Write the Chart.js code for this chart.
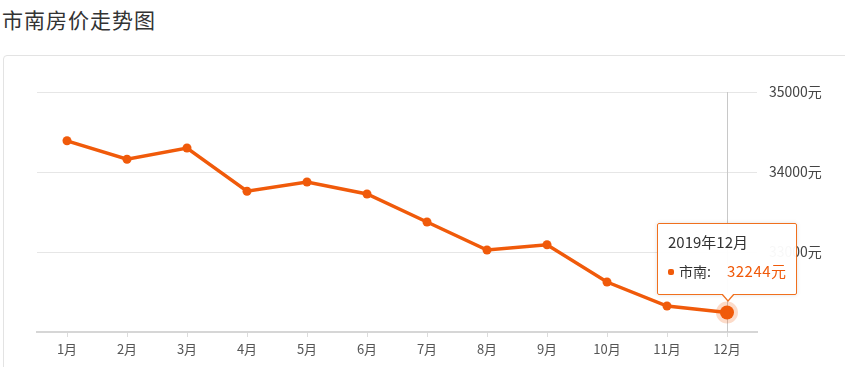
<!DOCTYPE html>
<html>
<head>
<meta charset="utf-8">
<script src="https://cdn.jsdelivr.net/npm/chart.js@4"></script>
<style>
  html, body { margin: 0; padding: 0; background: #fff; overflow: hidden; }
  body { width: 845px; height: 367px; position: relative; font-family: "Noto Sans CJK SC", "Noto Sans", sans-serif; }
  #title { position: absolute; left: 2px; top: 4px; font-size: 21px; color: #333; letter-spacing: 1px; }
  #card { position: absolute; left: 3px; top: 55px; width: 860px; height: 340px; border: 1px solid #e3e3e3; border-radius: 4px; }
  #wrap { position: absolute; left: 0; top: 0; width: 845px; height: 367px; }
  #tip { position: absolute; display: none; width: 138px; height: 70px; background: rgba(255,255,255,0.96);
         border: 1px solid #f0701e; border-radius: 2px; box-shadow: 0 0 4px rgba(0,0,0,0.12);
         font-size: 15px; color: #333; box-sizing: content-box; }
  #tip .t { position: absolute; left: 10px; top: 7px; }
  #tip .row { position: absolute; left: 10px; top: 36px; white-space: nowrap; font-size: 14px; }
  #tip .dot { display: inline-block; width: 6px; height: 6px; border-radius: 2px; background: #f05a0a; margin-right: 5px; vertical-align: 2px; }
  #tip .v { color: #f05a0a; margin-left: 16px; font-size: 15px; letter-spacing: 0.5px; }
  #tip .caret, #tip .caret2 { position: absolute; left: 63px; width: 0; height: 0; border-left: 7px solid transparent; border-right: 7px solid transparent; }
  #tip .caret { bottom: -8px; border-top: 8px solid #f0701e; }
  #tip .caret2 { bottom: -6px; left: 64px; border-left-width: 6px; border-right-width: 6px; border-top: 7px solid #fff; }
</style>
</head>
<body>
<div id="title">市南房价走势图</div>
<div id="card"></div>
<div id="wrap"><canvas id="priceChart" width="845" height="367"></canvas></div>
<div id="tip"><div class="t"></div><div class="row"><span class="dot"></span><span class="n"></span><span class="v"></span></div><div class="caret"></div><div class="caret2"></div></div>

<script>
// Data
const months = ['1月', '2月', '3月', '4月', '5月', '6月', '7月', '8月', '9月', '10月', '11月', '12月'];
const prices = [34390, 34160, 34300, 33760, 33875, 33725, 33375, 33025, 33090, 32625, 32325, 32244];
const seriesName = '市南';
const year = '2019年';
const yTicks = [32000, 33000, 34000, 35000];

const lineColor = '#f05a0a';
const tipEl = document.getElementById('tip');

// vertical line at the active point
const crosshair = {
    id: 'crosshair',
    beforeDatasetsDraw(chart) {
        const active = chart.tooltip.getActiveElements();
        if (!active.length) return;
        const x = chart.scales.x.getPixelForValue(active[0].index);
        const ctx = chart.ctx;
        ctx.save();
        ctx.strokeStyle = '#c8c8c8';
        ctx.lineWidth = 1;
        ctx.beginPath();
        ctx.moveTo(Math.round(x) + 0.5, chart.chartArea.top);
        ctx.lineTo(Math.round(x) + 0.5, chart.chartArea.bottom);
        ctx.stroke();
        ctx.restore();
    }
};

function externalTip(context) {
    const tt = context.tooltip;
    if (tt.opacity === 0 || !tt.dataPoints || !tt.dataPoints.length) {
        tipEl.style.display = 'none';
        return;
    }
    const dp = tt.dataPoints[0];
    tipEl.querySelector('.t').textContent = tt.title[0];
    tipEl.querySelector('.n').textContent = seriesName + ':';
    tipEl.querySelector('.v').textContent = dp.raw + '元';
    tipEl.style.display = 'block';
    tipEl.style.left = (tt.caretX - 70) + 'px';
    tipEl.style.top = (tt.caretY - 89) + 'px';
}

const ctx = document.getElementById('priceChart').getContext('2d');
const priceChart = new Chart(ctx, {
    type: 'line',
    data: {
        labels: months,
        datasets: [{
            label: seriesName,
            data: prices,
            borderColor: lineColor,
            backgroundColor: lineColor,
            borderWidth: 3.5,
            tension: 0,
            pointRadius: 4.5,
            pointBorderWidth: 0,
            pointBackgroundColor: lineColor,
            pointHoverRadius: 7,
            pointHoverBorderWidth: 8,
            pointHoverBackgroundColor: lineColor,
            pointHoverBorderColor: 'rgba(240, 90, 10, 0.22)'
        }]
    },
    options: {
        responsive: false,
        animation: false,
        layout: { padding: { left: 37, top: 92, right: 0, bottom: 0 } },
        scales: {
            x: {
                offset: true,
                afterFit: s => { s.height = 35; },
                grid: { offset: false, drawOnChartArea: false, drawTicks: true, tickLength: 5, color: '#dcdcdc' },
                border: { color: '#d6d6d6', width: 2 },
                ticks: { color: '#555', padding: 4, font: { size: 13, family: '"Noto Sans CJK SC", sans-serif' } }
            },
            y: {
                position: 'right',
                min: 32000,
                max: 35000,
                afterFit: s => { s.width = 88; },
                afterBuildTicks: s => { s.ticks = yTicks.map(v => ({ value: v })); },
                grid: { color: '#e6e6e6', lineWidth: 1, drawTicks: false },
                border: { display: false },
                ticks: {
                    color: '#444',
                    padding: 12,
                    font: { size: 14, family: '"Noto Sans CJK SC", sans-serif' },
                    callback: v => v === 32000 ? '' : v + '元'
                }
            }
        },
        plugins: {
            legend: { display: false },
            tooltip: {
                enabled: false,
                mode: 'index',
                intersect: false,
                external: externalTip,
                callbacks: { title: items => year + items[0].label }
            }
        }
    },
    plugins: [crosshair]
});

// show December as in the screenshot
const pt = priceChart.getDatasetMeta(0).data[11];
priceChart.setActiveElements([{ datasetIndex: 0, index: 11 }]);
priceChart.tooltip.setActiveElements([{ datasetIndex: 0, index: 11 }], { x: pt.x, y: pt.y });
priceChart.update();
</script>
</body>
</html>
